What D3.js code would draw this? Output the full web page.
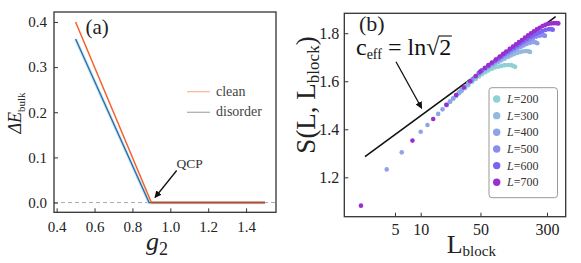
<!DOCTYPE html>
<html><head><meta charset="utf-8">
<script src="https://cdn.jsdelivr.net/npm/d3@7"></script>
<style>
body{margin:0;background:#fff}
svg{display:block}
svg text, svg tspan{font-family:"Liberation Serif","Tinos","Times New Roman","DejaVu Serif",serif !important;}
</style></head><body>
<svg id="c" width="581" height="263"></svg>
<script>
// ---------- Panel (a) data ----------
const cleanG = [0.5, 0.9, 1.5];
const cleanE = [0.400, 0.0, 0.0];
const disorderG = [0.5, 0.888, 1.5];
const disorderE = [0.362, 0.0, 0.0];
const aTicksX = [0.4, 0.6, 0.8, 1.0, 1.2, 1.4];
const aTicksY = [0.0, 0.1, 0.2, 0.3, 0.4];

// ---------- Panel (b) data ----------
const seriesLabels = ["200", "300", "400", "500", "600", "700"];
const seriesColors = ["#8fd0d4", "#93b8e2", "#8fa4e8", "#8a8cf0", "#7a63f2", "#9a2fd0"];
const Lb200 = [20,22,24,26,28,30,33,36,40,44,48,52,57,62,68,74,81,88,96,105,114,121,127];
const S200  = [1.500,1.514,1.527,1.539,1.549,1.558,1.571,1.583,1.597,1.609,1.620,1.629,1.638,1.645,1.652,1.657,1.661,1.664,1.667,1.668,1.667,1.664,1.660];
const Lb300 = [20,22,24,26,28,30,33,36,40,44,48,52,57,62,68,74,81,88,96,105,114,124,135,147,160,174,183,190];
const S300  = [1.501,1.515,1.528,1.541,1.552,1.562,1.576,1.589,1.604,1.617,1.629,1.639,1.648,1.656,1.665,1.672,1.680,1.687,1.694,1.701,1.707,1.713,1.718,1.722,1.725,1.726,1.725,1.722];
const Lb400 = [4,6,10,12,16,18,20,22,24,26,28,30,33,36,40,44,48,52,57,62,68,74,81,88,96,105,114,124,135,147,160,174,190,207,220,231];
const S400  = [1.233,1.304,1.390,1.418,1.464,1.483,1.502,1.516,1.529,1.542,1.553,1.563,1.578,1.591,1.606,1.620,1.633,1.643,1.652,1.661,1.671,1.679,1.688,1.696,1.704,1.712,1.720,1.728,1.735,1.742,1.749,1.755,1.760,1.763,1.762,1.758];
const Lb500 = [40,44,48,52,57,62,68,74,81,88,96,105,114,124,135,147,160,174,190,207,225,245,262,275,284];
const S500  = [1.606,1.620,1.634,1.645,1.655,1.664,1.674,1.683,1.692,1.701,1.710,1.719,1.727,1.735,1.744,1.752,1.760,1.767,1.774,1.780,1.786,1.790,1.792,1.792,1.789];
const Lb600 = [48,52,57,62,68,74,81,88,96,105,114,124,135,147,160,174,190,207,225,245,267,290,316,335,350];
const S600  = [1.635,1.646,1.656,1.665,1.676,1.685,1.695,1.704,1.714,1.724,1.733,1.741,1.750,1.759,1.768,1.776,1.784,1.791,1.798,1.804,1.810,1.814,1.817,1.817,1.815];
const Lb700 = [2,8,14,20,26,32,38,44,50,56,62,68,76,84,92,100,110,120,130,141,153,166,180,195,211,228,246,266,287,310,334,360,385,407];
const S700  = [1.082,1.353,1.443,1.502,1.543,1.574,1.600,1.622,1.641,1.655,1.667,1.678,1.691,1.703,1.714,1.724,1.735,1.745,1.754,1.763,1.772,1.782,1.791,1.800,1.808,1.816,1.823,1.830,1.835,1.839,1.841,1.842,1.842,1.841];
const seriesLb = [Lb200, Lb300, Lb400, Lb500, Lb600, Lb700];
const seriesS  = [S200, S300, S400, S500, S600, S700];
const fitLb = [2.23, 379];
const fitS  = [1.286, 1.869];
const bTicksX = [5, 10, 50, 300];
const bTicksY = [1.2, 1.4, 1.6, 1.8];

const SERIF = '"Liberation Serif","Tinos","Times New Roman","DejaVu Serif",serif';
const svg = d3.select("#c");
const defs = svg.append("defs");
defs.append("marker").attr("id","ah").attr("viewBox","0 0 10 10").attr("refX",9).attr("refY",5)
  .attr("markerWidth",7).attr("markerHeight",7).attr("markerUnits","userSpaceOnUse").attr("orient","auto")
  .append("path").attr("d","M0,0L10,5L0,10Z").attr("fill","#111");

// ================= Panel (a) =================
const xa = d3.scaleLinear().domain([0.386, 1.558]).range([54, 276]);
const ya = d3.scaleLinear().domain([-0.0216, 0.422]).range([212.3, 12]);
const ga = svg.append("g").attr("font-family", SERIF);

ga.append("line").attr("x1", xa.range()[0]).attr("x2", xa.range()[1])
  .attr("y1", ya(0)).attr("y2", ya(0))
  .attr("stroke","#aaa").attr("stroke-width",1).attr("stroke-dasharray","4,3");

const lineA = d3.line().x(d=>xa(d[0])).y(d=>ya(d[1]));
const disPts = disorderG.map((g,i)=>[g, disorderE[i]]);
const cleanPts = cleanG.map((g,i)=>[g, cleanE[i]]);
ga.append("path").attr("d", lineA(disPts)).attr("fill","none").attr("stroke","#c3e6f6").attr("stroke-width",3.2);
ga.append("path").attr("d", lineA(disPts)).attr("fill","none").attr("stroke","#2f6b9c").attr("stroke-width",1.3);
ga.append("path").attr("d", lineA(cleanPts)).attr("fill","none").attr("stroke","#f4622d").attr("stroke-width",1.5);
ga.append("path").attr("d", lineA(cleanPts.slice(1))).attr("fill","none").attr("stroke","#c04a2a").attr("stroke-width",1.4);

const axA = ga.append("g").attr("transform",`translate(0,${ya.range()[0]})`)
  .call(d3.axisBottom(xa).tickValues(aTicksX).tickFormat(d3.format(".1f")).tickSize(-4).tickPadding(8.7));
const ayA = ga.append("g").attr("transform",`translate(${xa.range()[0]},0)`)
  .call(d3.axisLeft(ya).tickValues(aTicksY).tickFormat(d3.format(".1f")).tickSize(-4).tickPadding(7));
[axA, ayA].forEach(g=>{g.attr("font-family", SERIF).attr("font-size", 15); g.select(".domain").remove();
  g.selectAll("line").attr("stroke","#333");
  g.selectAll("text").attr("font-size","15px").attr("fill","#222");});

ga.append("rect").attr("x",xa.range()[0]).attr("y",ya.range()[1])
  .attr("width",xa.range()[1]-xa.range()[0]).attr("height",ya.range()[0]-ya.range()[1])
  .attr("fill","none").attr("stroke","#333").attr("stroke-width",1.3);

// legend (a)
ga.append("line").attr("x1",187).attr("x2",210).attr("y1",91.7).attr("y2",91.7).attr("stroke","#f8b9a2").attr("stroke-width",1.3);
ga.append("line").attr("x1",187).attr("x2",210).attr("y1",112.3).attr("y2",112.3).attr("stroke","#b0b0b0").attr("stroke-width",1.3);
ga.append("text").attr("x",216).attr("y",95.5).attr("font-size","14px").attr("fill","#444").text("clean");
ga.append("text").attr("x",216).attr("y",116).attr("font-size","14px").attr("fill","#444").text("disorder");

// QCP annotation
ga.append("text").attr("x",176.5).attr("y",168.3).attr("font-size","13.5px").attr("fill","#333").text("QCP");
ga.append("line").attr("x1",176.7).attr("y1",170.5).attr("x2",155).attr("y2",197.5)
  .attr("stroke","#111").attr("stroke-width",1.3).attr("marker-end","url(#ah)");

ga.append("text").attr("x",85.5).attr("y",34).attr("font-size","21px").attr("fill","#222").text("(a)");

// axis titles (a)
const yta = ga.append("text").attr("transform","translate(20.5,113) rotate(-90)").attr("text-anchor","middle").attr("fill","#222");
yta.append("tspan").attr("font-size","18px").attr("font-style","italic").text("ΔE");
yta.append("tspan").attr("font-size","11px").attr("dy",4).text("bulk");
const xta = ga.append("text").attr("x",157).attr("y",250).attr("text-anchor","middle").attr("fill","#222");
xta.append("tspan").attr("font-size","26px").attr("font-style","italic").text("g");
xta.append("tspan").attr("font-size","18px").attr("dy",5).text("2");

// ================= Panel (b) =================
const xb = d3.scaleLog().domain([1.277, 496.6]).range([344.3, 565.7]);
const yb = d3.scaleLinear().domain([1.036, 1.883]).range([216.7, 13.3]);
const gb = svg.append("g").attr("font-family", SERIF);

gb.append("line").attr("x1",xb(fitLb[0])).attr("y1",yb(fitS[0])).attr("x2",xb(fitLb[1])).attr("y2",yb(fitS[1]))
  .attr("stroke","#111").attr("stroke-width",1.6);

seriesLb.forEach((lbs,i)=>{
  gb.append("g").selectAll("circle").data(lbs.map((l,j)=>[l, seriesS[i][j]])).join("circle")
    .attr("cx",d=>xb(d[0])).attr("cy",d=>yb(d[1])).attr("r",2.3).attr("fill",seriesColors[i]);
});

const axB = gb.append("g").attr("transform",`translate(0,${yb.range()[0]})`)
  .call(d3.axisBottom(xb).tickValues(bTicksX).tickFormat(d3.format("d")).tickSize(-4).tickPadding(7));
const ayB = gb.append("g").attr("transform",`translate(${xb.range()[0]},0)`)
  .call(d3.axisLeft(yb).tickValues(bTicksY).tickFormat(d3.format(".1f")).tickSize(-4).tickPadding(5));
[axB, ayB].forEach(g=>{g.attr("font-family", SERIF).attr("font-size", 16); g.select(".domain").remove();
  g.selectAll("line").attr("stroke","#333");
  g.selectAll("text").attr("font-size","16px").attr("fill","#222");});

gb.append("rect").attr("x",xb.range()[0]).attr("y",yb.range()[1])
  .attr("width",xb.range()[1]-xb.range()[0]).attr("height",yb.range()[0]-yb.range()[1])
  .attr("fill","none").attr("stroke","#333").attr("stroke-width",1.3);

// legend (b)
const lg = gb.append("g");
lg.append("rect").attr("x",489).attr("y",87.7).attr("width",68.5).attr("height",110).attr("rx",3)
  .attr("fill","#fff").attr("stroke","#999").attr("stroke-width",1);
seriesLabels.forEach((lab,i)=>{
  const cy = 99 + i*16.65;
  lg.append("circle").attr("cx",496.7).attr("cy",cy).attr("r",3.7).attr("fill",seriesColors[i]);
  const t = lg.append("text").attr("x",507).attr("y",cy+4).attr("font-size","12px").attr("fill","#333");
  t.append("tspan").attr("font-style","italic").text("L");
  t.append("tspan").text("=" + lab);
});

gb.append("text").attr("x",359).attr("y",31).attr("font-size","22px").attr("fill","#222").text("(b)");

// c_eff annotation
const ce = gb.append("text").attr("x",356).attr("y",55).attr("fill","#111");
ce.append("tspan").attr("font-size","24px").text("c");
ce.append("tspan").attr("font-size","14px").attr("dy",4).text("eff");
ce.append("tspan").attr("font-size","24px").attr("dy",-4).text(" = ln");
ce.append("tspan").attr("font-size","24px").text("√");
ce.append("tspan").attr("font-size","24px").text("2");
{
  const node = ce.node();
  const n = node.getNumberOfChars();
  const s = node.getStartPositionOfChar(n-1);
  const e = node.getEndPositionOfChar(n-1);
  const bb = node.getExtentOfChar(n-2);
  gb.append("line").attr("x1",s.x - 0.5).attr("x2",e.x+0.5)
    .attr("y1",bb.y+2).attr("y2",bb.y+2).attr("stroke","#111").attr("stroke-width",1.1);
}
gb.append("line").attr("x1",396).attr("y1",61.7).attr("x2",421.7).attr("y2",108.3)
  .attr("stroke","#111").attr("stroke-width",1.3).attr("marker-end","url(#ah)");

// axis titles (b)
const ytb = gb.append("text").attr("transform","translate(315,95) rotate(-90)").attr("text-anchor","middle").attr("fill","#222");
ytb.append("tspan").attr("font-size","27px").text("S(L, L");
ytb.append("tspan").attr("font-size","17px").attr("dy",4).text("block");
ytb.append("tspan").attr("font-size","27px").attr("dy",-4).text(")");
const xtb = gb.append("text").attr("x",446.7).attr("y",253.3).attr("fill","#222");
xtb.append("tspan").attr("font-size","26px").text("L");
xtb.append("tspan").attr("font-size","15px").attr("dy",3).text("block");
</script>
</body></html>
